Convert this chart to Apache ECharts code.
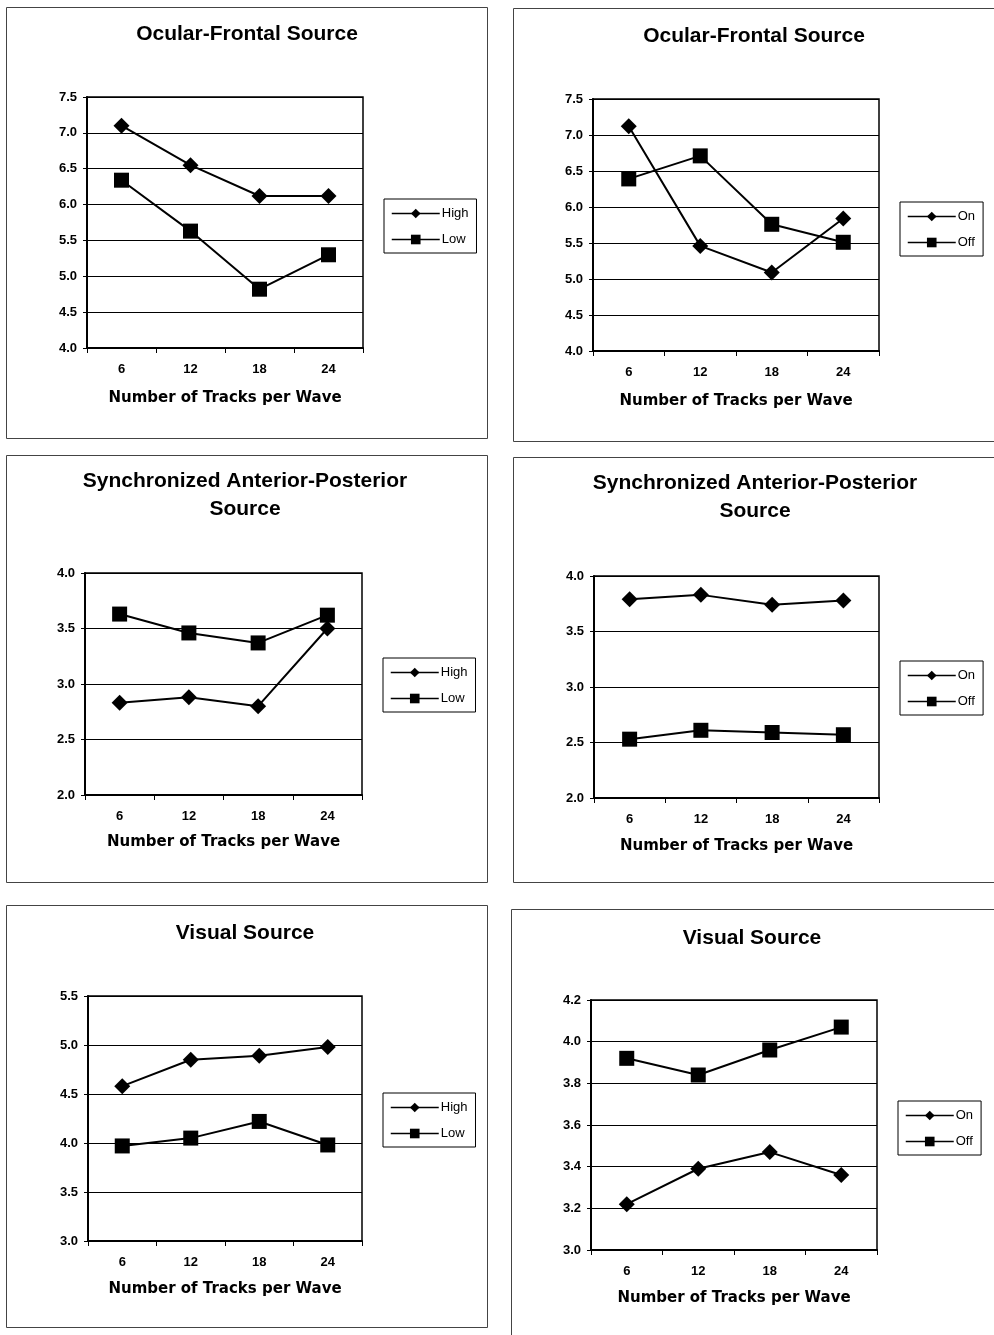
<!DOCTYPE html>
<html><head><meta charset="utf-8">
<script src="https://cdn.jsdelivr.net/npm/echarts/dist/echarts.min.js"></script>
<style>html,body{margin:0;padding:0;background:#fff}#c{width:994px;height:1335px}</style>
</head><body><div id="c"></div>
<script>
// ---- data ----
const categories = ['6', '12', '18', '24'];
const xAxisTitle = 'Number of Tracks per Wave';

const ocularHigh = [7.10, 6.55, 6.12, 6.12];
const ocularLow  = [6.34, 5.63, 4.82, 5.30];
const ocularOn   = [7.12, 5.46, 5.09, 5.84];
const ocularOff  = [6.39, 6.71, 5.76, 5.51];

const syncHigh = [2.83, 2.88, 2.80, 3.50];
const syncLow  = [3.63, 3.46, 3.37, 3.62];
const syncOn   = [3.79, 3.83, 3.74, 3.78];
const syncOff  = [2.53, 2.61, 2.59, 2.57];

const visualHigh = [4.58, 4.85, 4.89, 4.98];
const visualLow  = [3.97, 4.05, 4.22, 3.98];
const visualOn   = [3.22, 3.39, 3.47, 3.36];
const visualOff  = [3.92, 3.84, 3.96, 4.07];

const titles = [
  'Ocular-Frontal Source', 'Ocular-Frontal Source',
  'Synchronized Anterior-Posterior\nSource', 'Synchronized Anterior-Posterior\nSource',
  'Visual Source', 'Visual Source'
];
const yRanges = [[4.0, 7.5, 0.5], [4.0, 7.5, 0.5], [2.0, 4.0, 0.5], [2.0, 4.0, 0.5], [3.0, 5.5, 0.5], [3.0, 4.2, 0.2]];
const seriesNames = [['High', 'Low'], ['On', 'Off'], ['High', 'Low'], ['On', 'Off'], ['High', 'Low'], ['On', 'Off']];
const seriesData = [
  [ocularHigh, ocularLow], [ocularOn, ocularOff],
  [syncHigh, syncLow], [syncOn, syncOff],
  [visualHigh, visualLow], [visualOn, visualOff]
];

// ---- layout (positions only) ----
const layout = [
  {frame:[6,7,481,431],   grid:[87,97,276,251],   titleX:247, titleY:20,  nameGap:43, legend:[384,199]},
  {frame:[513,8,490,433], grid:[593,99,286,252],  titleX:754, titleY:22,  nameGap:43, legend:[900,202]},
  {frame:[6,455,481,427], grid:[85,573,277,222],  titleX:245, titleY:467, nameGap:40, legend:[383,658]},
  {frame:[513,457,490,425],grid:[594,576,285,222],titleX:755, titleY:469, nameGap:41, legend:[900,661]},
  {frame:[6,905,481,422], grid:[88,996,274,245],  titleX:245, titleY:919, nameGap:41, legend:[383,1093]},
  {frame:[511,909,490,440],grid:[591,1000,286,250],titleX:752, titleY:924, nameGap:41, legend:[898,1101]}
];

const FONT = '"Liberation Sans", Arial, sans-serif';
const option = {
  animation: false,
  backgroundColor: '#fff',
  title: [], grid: [], xAxis: [], yAxis: [], series: [], legend: [], graphic: []
};

layout.forEach((L, i) => {
  option.graphic.push({
    type: 'rect', silent: true, z: -10,
    shape: {x: L.frame[0] + 0.5, y: L.frame[1] + 0.5, width: L.frame[2], height: L.frame[3]},
    style: {fill: 'none', stroke: '#444', lineWidth: 1}
  });
  option.title.push({
    text: titles[i], left: L.titleX, top: L.titleY, textAlign: 'center', padding: 0,
    textStyle: {fontFamily: FONT, fontWeight: 'bold', fontSize: 21, color: '#000', lineHeight: 28}
  });
  option.grid.push({
    left: L.grid[0], top: L.grid[1], width: L.grid[2], height: L.grid[3],
    show: true, borderColor: '#000', borderWidth: 1.5, backgroundColor: '#fff',
    containLabel: false, outerBoundsMode: 'none'
  });
  option.xAxis.push({
    type: 'category', gridIndex: i, data: categories, boundaryGap: true,
    name: xAxisTitle, nameLocation: 'middle', nameGap: L.nameGap,
    nameTextStyle: {fontFamily: '"DejaVu Sans", Verdana, sans-serif', fontWeight: 'bold', fontSize: 15, color: '#000'},
    axisLine: {show: true, onZero: false, lineStyle: {color: '#000', width: 2}},
    axisTick: {show: true, inside: false, length: 5, alignWithLabel: false, lineStyle: {color: '#000', width: 1}},
    axisLabel: {margin: 15, fontFamily: FONT, fontSize: 13, fontWeight: 'bold', color: '#000'},
    splitLine: {show: false}
  });
  const r = yRanges[i];
  option.yAxis.push({
    type: 'value', gridIndex: i, min: r[0], max: r[1], interval: r[2],
    axisLine: {show: true, lineStyle: {color: '#000', width: 2}},
    axisTick: {show: true, inside: false, length: 4, lineStyle: {color: '#000', width: 1}},
    axisLabel: {margin: 10, fontFamily: FONT, fontSize: 13, fontWeight: 'bold', color: '#000', formatter: v => v.toFixed(1)},
    splitLine: {show: true, lineStyle: {color: '#000', width: 1}}
  });
  seriesNames[i].forEach((nm, k) => {
    option.series.push({
      type: 'line', name: nm, xAxisIndex: i, yAxisIndex: i, data: seriesData[i][k],
      symbol: k === 0 ? 'diamond' : 'rect', symbolSize: k === 0 ? 16 : 15,
      showAllSymbol: true, color: '#000',
      lineStyle: {color: '#000', width: 2}, itemStyle: {color: '#000', borderWidth: 0},
      emphasis: {disabled: true}, z: 3
    });
  });
  option.legend.push({
    data: seriesNames[i], orient: 'vertical', left: L.legend[0], top: L.legend[1],
    padding: [8, 8, 7, 7], itemGap: 13, itemWidth: 48, itemHeight: 12,
    borderColor: '#000', borderWidth: 1, backgroundColor: '#fff',
    selectedMode: false, inactiveColor: '#000',
    lineStyle: {width: 1.5},
    textStyle: {fontFamily: FONT, fontSize: 13, color: '#000', padding: [0, 0, 0, -3]}
  });
});

const chart = echarts.init(document.getElementById('c'), null, {renderer: 'canvas'});
chart.setOption(option);
</script>
</body></html>
